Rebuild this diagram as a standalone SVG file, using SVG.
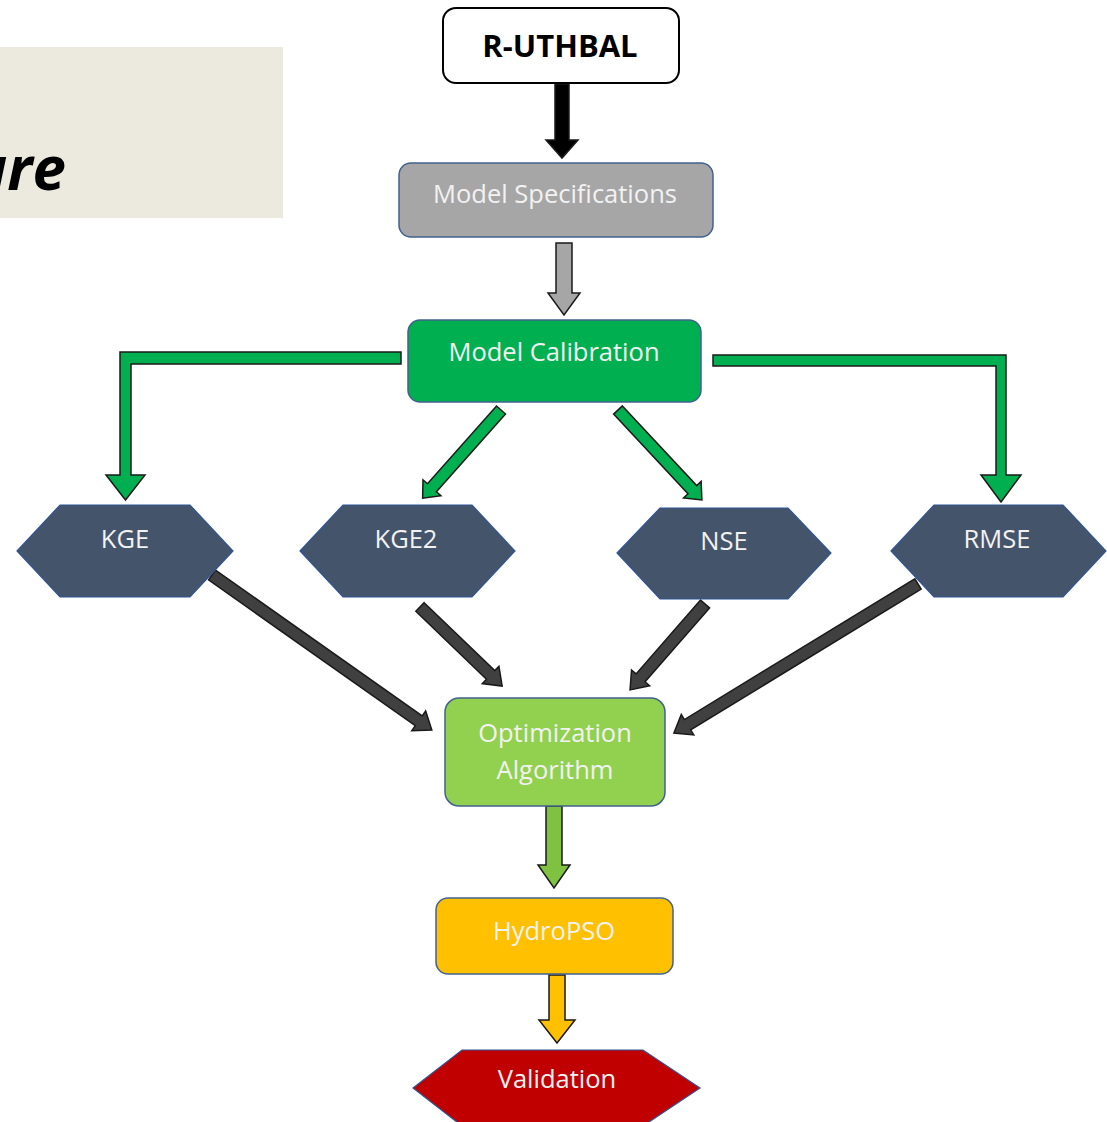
<svg xmlns="http://www.w3.org/2000/svg" width="1107" height="1122" viewBox="0 0 1107 1122">
<style>
.lbl{font-family:"Open Sans","Liberation Sans",sans-serif;fill:#F2F2F2;text-anchor:middle;font-size:25.5px}
.box{stroke:#41628F;stroke-width:1.5}
.hex{fill:#44546A;stroke:#2F5597;stroke-width:1.2}
.arr{stroke:#1a1a1a;stroke-width:1.5;stroke-linejoin:miter}
</style>
<rect width="1107" height="1122" fill="#FFFFFF"/>
<g id="title-panel">
<rect x="0" y="47" width="283" height="171" fill="#ECE9DF"/>
<text x="66" y="190" font-family="'Open Sans','Liberation Sans',sans-serif" font-weight="bold" font-style="italic" font-size="60" text-anchor="end" fill="#000">ure</text>
</g>
<g id="connectors">
<polygon class="arr" fill="#000" points="555,84 569,84 569,140 578,140 562,158 546,140 555,140"/>
<polygon class="arr" fill="#A6A6A6" points="556,243 572,243 572,293 580,293 564,315 548,293 556,293"/>
<polygon class="arr" fill="#00B050" points="401,352 120,352 120,475 106,475 125.5,500 145,475 131,475 131,364 401,364"/>
<polygon class="arr" fill="#00B050" points="713,355 1006,355 1006,475 1021,475 1001,502 981,475 996,475 996,366 713,366"/>
<polygon class="arr" fill="#00B050" transform="translate(501,410) rotate(131.6)" points="0,-6 104,-6 104,-12 118,0 104,12 104,6 0,6"/>
<polygon class="arr" fill="#00B050" transform="translate(618,410) rotate(47)" points="0,-6 109,-6 109,-12 123,0 109,12 109,6 0,6"/>
<polygon class="arr" fill="#404040" transform="translate(212,575) rotate(35.2)" points="0,-6 253,-6 253,-12 269,0 253,12 253,6 0,6"/>
<polygon class="arr" fill="#404040" transform="translate(420,607) rotate(43.9)" points="0,-6 98,-6 98,-12 114,0 98,12 98,6 0,6"/>
<polygon class="arr" fill="#404040" transform="translate(705,604) rotate(131.1)" points="0,-6 98,-6 98,-12 114,0 98,12 98,6 0,6"/>
<polygon class="arr" fill="#404040" transform="translate(918,584) rotate(148.6)" points="0,-6 270,-6 270,-12 286,0 270,12 270,6 0,6"/>
<polygon class="arr" fill="#7FC242" points="546,806 562,806 562,865 570,865 554,888 538,865 546,865"/>
<polygon class="arr" fill="#FFC000" points="549,975 565,975 565,1020 575,1020 557,1043 539,1020 549,1020"/>
</g>
<g id="r-uthbal">
<rect x="443" y="8" width="236" height="75" rx="13" fill="#FFFFFF" stroke="#000" stroke-width="2"/>
<text x="560" y="57" font-family="'Open Sans','Liberation Sans',sans-serif" font-weight="bold" font-size="31" text-anchor="middle" fill="#000">R-UTHBAL</text>
</g>
<g id="model-specifications">
<rect class="box" x="399" y="163" width="314" height="74" rx="12" fill="#A6A6A6"/>
<text class="lbl" x="555" y="203">Model Specifications</text>
</g>
<g id="model-calibration">
<rect class="box" x="408" y="320" width="293" height="82" rx="12" fill="#00B050"/>
<text class="lbl" x="554" y="361">Model Calibration</text>
</g>
<g id="kge">
<polygon class="hex" points="17,551 60,505 190,505 233,551 190,597 60,597"/>
<text class="lbl" x="125" y="548">KGE</text>
</g>
<g id="kge2">
<polygon class="hex" points="300,551 343,505 472,505 515,551 472,597 343,597"/>
<text class="lbl" x="406" y="548">KGE2</text>
</g>
<g id="nse">
<polygon class="hex" points="617,553 660,508 788,508 831,553 788,599 660,599"/>
<text class="lbl" x="724" y="550">NSE</text>
</g>
<g id="rmse">
<polygon class="hex" points="891,551 934,505 1063,505 1106,551 1063,597 934,597"/>
<text class="lbl" x="997" y="548">RMSE</text>
</g>
<g id="optimization-algorithm">
<rect class="box" x="445" y="698" width="220" height="108" rx="14" fill="#92D050"/>
<text class="lbl" x="555" y="742">Optimization</text>
<text class="lbl" x="555" y="779">Algorithm</text>
</g>
<g id="hydropso">
<rect class="box" x="436" y="898" width="237" height="76" rx="12" fill="#FFC000"/>
<text class="lbl" x="554" y="940">HydroPSO</text>
</g>
<g id="validation">
<polygon points="413,1088 462,1050 643,1050 700,1088 643,1126 462,1126" fill="#C00000" stroke="#2F5597" stroke-width="1.2"/>
<text class="lbl" x="557" y="1088">Validation</text>
</g>
</svg>
